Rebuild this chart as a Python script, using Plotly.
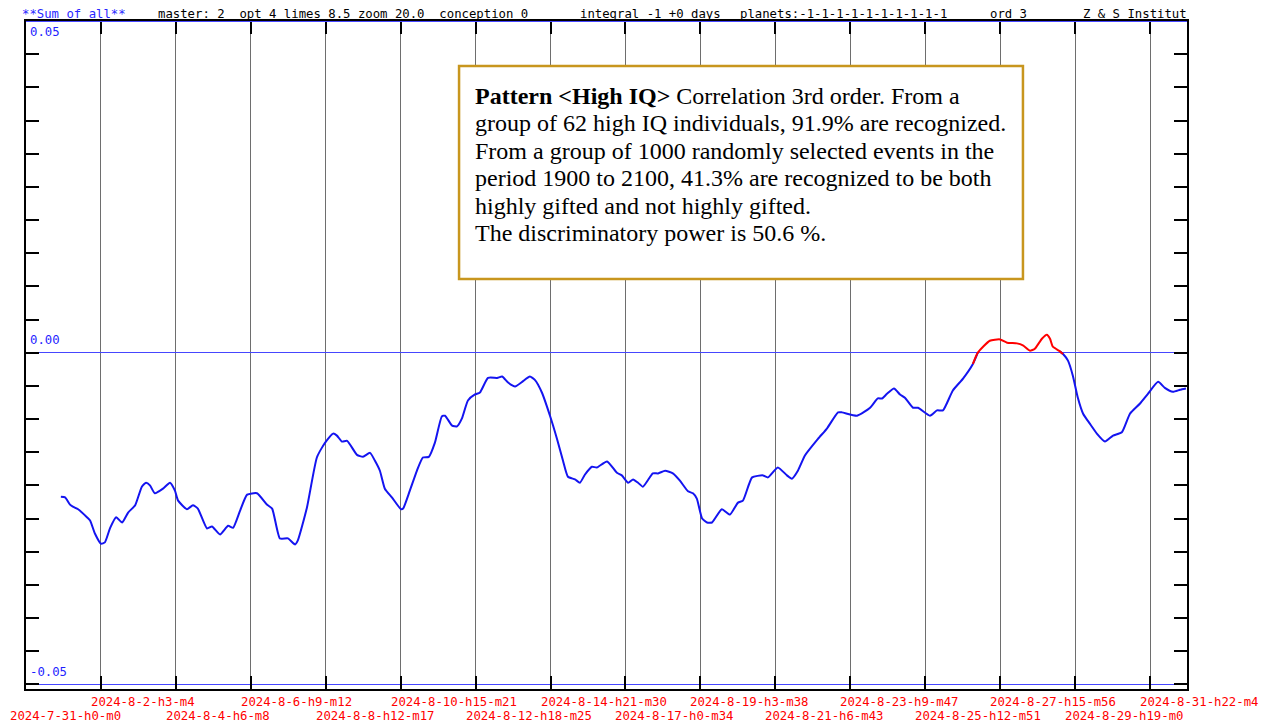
import re
from datetime import date

import numpy as np
import plotly.graph_objects as go

# x: days since 2024-7-31 h0 m0, y: summed correlation value
days = [
    0.99, 1.11, 1.25, 1.33, 1.48, 1.73, 1.82, 1.96, 2.13, 2.24,
    2.39, 2.56, 2.73, 2.90, 3.10, 3.29, 3.41, 3.52, 3.66, 3.89,
    4.09, 4.23, 4.32, 4.57, 4.74, 4.88, 5.14, 5.28, 5.51, 5.74,
    5.88, 6.08, 6.28, 6.56, 6.84, 6.99, 7.21, 7.44, 7.64, 7.72,
    7.98, 8.26, 8.49, 8.72, 8.83, 8.97, 9.12, 9.40, 9.57, 9.77,
    9.91, 10.05, 10.19, 10.39, 10.65, 10.71, 10.90, 11.10, 11.27, 11.44,
    11.61, 11.81, 11.90, 12.10, 12.24, 12.38, 12.55, 12.75, 12.89, 13.12,
    13.38, 13.52, 13.69, 13.89, 14.09, 14.31, 14.45, 14.65, 14.88, 15.08,
    15.25, 15.39, 15.59, 15.73, 15.87, 16.07, 16.21, 16.50, 16.78, 16.92,
    17.10, 17.24, 17.38, 17.52, 17.80, 17.95, 18.15, 18.37, 18.57, 18.80,
    18.94, 19.05, 19.20, 19.34, 19.48, 19.76, 19.99, 20.22, 20.36, 20.62,
    20.93, 21.07, 21.35, 21.61, 21.75, 21.92, 22.12, 22.49, 22.75, 23.06,
    23.17, 23.60, 23.97, 24.19, 24.31, 24.45, 24.65, 24.82, 24.96, 25.19,
    25.33, 25.67, 25.87, 26.04, 26.32, 26.61, 26.89, 27.03, 27.37, 27.66,
    27.86, 28.14, 28.31, 28.51, 28.65, 28.85, 28.99, 29.08, 29.16, 29.36,
    29.45, 29.59, 29.73, 29.87, 30.02, 30.21, 30.41, 30.64, 30.87, 31.12,
    31.35, 31.63, 31.86, 32.15, 32.34, 32.57, 32.77, 32.94,
]
values = [
    -0.0217, -0.0218, -0.0229, -0.0232, -0.0236, -0.0248, -0.0253, -0.0273, -0.0288, -0.0286,
    -0.0264, -0.0248, -0.0256, -0.0241, -0.0230, -0.0202, -0.0196, -0.0200, -0.0212, -0.0205,
    -0.0196, -0.0208, -0.0223, -0.0236, -0.0230, -0.0235, -0.0265, -0.0262, -0.0274, -0.0261,
    -0.0264, -0.0238, -0.0214, -0.0212, -0.0229, -0.0235, -0.0280, -0.0280, -0.0289, -0.0283,
    -0.0233, -0.0158, -0.0136, -0.0122, -0.0125, -0.0134, -0.0133, -0.0154, -0.0157, -0.0151,
    -0.0163, -0.0178, -0.0205, -0.0218, -0.0236, -0.0235, -0.0208, -0.0178, -0.0158, -0.0157,
    -0.0136, -0.0096, -0.0095, -0.0110, -0.0111, -0.0099, -0.0072, -0.0063, -0.0060, -0.0038,
    -0.0038, -0.0036, -0.0045, -0.0051, -0.0044, -0.0036, -0.0041, -0.0060, -0.0095, -0.0130,
    -0.0163, -0.0187, -0.0191, -0.0196, -0.0184, -0.0172, -0.0173, -0.0164, -0.0181, -0.0185,
    -0.0196, -0.0191, -0.0196, -0.0202, -0.0182, -0.0182, -0.0178, -0.0182, -0.0193, -0.0209,
    -0.0212, -0.0220, -0.0250, -0.0256, -0.0256, -0.0236, -0.0244, -0.0226, -0.0223, -0.0188,
    -0.0185, -0.0188, -0.0173, -0.0185, -0.0190, -0.0178, -0.0155, -0.0130, -0.0114, -0.0090,
    -0.0090, -0.0095, -0.0083, -0.0069, -0.0069, -0.0062, -0.0054, -0.0063, -0.0068, -0.0083,
    -0.0083, -0.0095, -0.0087, -0.0087, -0.0057, -0.0039, -0.0017, 0.0000, 0.0018, 0.0020,
    0.0015, 0.0014, 0.0011, 0.0003, 0.0006, 0.0021, 0.0027, 0.0021, 0.0009, 0.0002,
    -0.0002, -0.0012, -0.0035, -0.0068, -0.0092, -0.0107, -0.0122, -0.0134, -0.0125, -0.0120,
    -0.0092, -0.0077, -0.0062, -0.0044, -0.0053, -0.0059, -0.0056, -0.0054,
]

tick_labels = [
    "2024-7-31-h0-m0", "2024-8-2-h3-m4", "2024-8-4-h6-m8", "2024-8-6-h9-m12",
    "2024-8-8-h12-m17", "2024-8-10-h15-m21", "2024-8-12-h18-m25", "2024-8-14-h21-m30",
    "2024-8-17-h0-m34", "2024-8-19-h3-m38", "2024-8-21-h6-m43", "2024-8-23-h9-m47",
    "2024-8-25-h12-m51", "2024-8-27-h15-m56", "2024-8-29-h19-m0", "2024-8-31-h22-m4",
]

y_label_text = ["0.05", "0.00", "-0.05"]
y_label_vals = [0.05, 0.0, -0.05]

header_items = [
    "**Sum of all**",
    "master: 2\u00a0\u00a0opt 4 limes 8.5 zoom 20.0\u00a0\u00a0conception 0",
    "integral -1 +0 days",
    "planets:-1-1-1-1-1-1-1-1-1-1",
    "ord 3",
    "Z & S Institut",
]

info_lines = [
    "<b>Pattern &lt;High IQ&gt;</b> Correlation 3rd order. From a",
    "group of 62 high IQ individuals, 91.9% are recognized.",
    "From a group of 1000 randomly selected events in the",
    "period 1900 to 2100, 41.3% are recognized to be both",
    "highly gifted and not highly gifted.",
    "The discriminatory power is 50.6 %.",
]

MONO = "DejaVu Sans Mono"
SERIF = "Liberation Serif, Times New Roman, serif"
BLUE_LINE = "rgb(20,20,240)"
GRID_BLUE = "rgb(70,70,255)"


def label_to_days(label):
    y, mo, d, h, mi = map(int, re.findall(r"\d+", label))
    return (date(y, mo, d) - date(2024, 7, 31)).days + h / 24 + mi / 1440


tick_days = [label_to_days(t) for t in tick_labels]

# red where the sum is above zero, blue elsewhere (segments share the crossing points)
v = np.array(values)
pos = v >= 0
neg = ~pos
red_keep = pos | np.r_[pos[1:], False] | np.r_[False, pos[:-1]]
blue_keep = neg | np.r_[neg[1:], False] | np.r_[False, neg[:-1]]
red_y = [float(a) if k else None for a, k in zip(v, red_keep)]
blue_y = [float(a) if k else None for a, k in zip(v, blue_keep)]

fig = go.Figure()
fig.add_trace(go.Scatter(x=days, y=blue_y, mode="lines", hoverinfo="skip",
                         line=dict(color=BLUE_LINE, width=2, shape="spline", smoothing=0.5)))
fig.add_trace(go.Scatter(x=days, y=red_y, mode="lines", hoverinfo="skip",
                         line=dict(color="rgb(255,0,0)", width=2, shape="spline", smoothing=0.5)))

annotations = []

# header row
header_x = [21, 157, 579, 739, 989, 1082]
for i, (txt, px) in enumerate(zip(header_items, header_x)):
    annotations.append(dict(
        text=txt, xref="paper", yref="paper", x=0, y=1, xanchor="left", yanchor="middle",
        xshift=px - 27, yshift=7, showarrow=False,
        font=dict(family=MONO, size=12.3, color="rgb(40,40,255)" if i == 0 else "black")))

# date labels, alternating rows
for i, (txt, xd) in enumerate(zip(tick_labels, tick_days)):
    annotations.append(dict(
        text=txt, xref="x", yref="paper", x=xd, y=0, xanchor="left", yanchor="middle",
        xshift=-18 if i == 0 else -12, yshift=-27 if i % 2 == 0 else -13, showarrow=False,
        font=dict(family=MONO, size=12.3, color="rgb(255,0,0)")))

# value labels inside the frame
y_shifts = [-11, 13, 12]
for txt, yv, ys in zip(y_label_text, y_label_vals, y_shifts):
    annotations.append(dict(
        text=txt, xref="paper", yref="y", x=0, y=yv, xanchor="left", yanchor="middle",
        xshift=2, yshift=ys, showarrow=False,
        font=dict(family=MONO, size=12.3, color="rgb(30,30,255)")))

# text box
for i, line in enumerate(info_lines):
    annotations.append(dict(
        text=line, xref="paper", yref="paper", x=0, y=1, xanchor="left", yanchor="middle",
        xshift=447, yshift=-75 - 27.4 * i, showarrow=False,
        font=dict(family=SERIF, size=24, color="black")))

shapes = [
    dict(type="rect", xref="paper", yref="paper", x0=0.3730, x1=0.8587, y0=0.6138, y1=0.9326,
         line=dict(color="rgb(200,150,30)", width=2.5), fillcolor="white", layer="above"),
    dict(type="line", xref="paper", yref="y", x0=0, x1=1, y0=0.05, y1=0.05,
         line=dict(color=GRID_BLUE, width=2), layer="above"),
]

fig.update_layout(
    width=1263, height=725, autosize=False,
    margin=dict(l=26, r=76, t=21, b=36),
    paper_bgcolor="white", plot_bgcolor="white",
    showlegend=False,
    annotations=annotations,
    shapes=shapes,
    xaxis=dict(
        range=[0, 32.97], tickmode="array", tickvals=tick_days, showticklabels=False,
        showgrid=True, gridcolor="rgb(110,110,110)", gridwidth=1, zeroline=False,
        ticks="inside", ticklen=13, tickwidth=2, tickcolor="black",
        showline=True, linecolor="black", linewidth=2, mirror="ticks",
    ),
    yaxis=dict(
        range=[-0.0507, 0.05], tickmode="linear", tick0=0, dtick=0.05, showticklabels=False,
        showgrid=True, gridcolor=GRID_BLUE, gridwidth=1, zeroline=False,
        ticks="inside", ticklen=13, tickwidth=2, tickcolor="black",
        showline=True, linecolor="black", linewidth=2, mirror="ticks",
        minor=dict(tick0=0, dtick=0.005, ticks="inside", ticklen=13, tickwidth=2,
                   tickcolor="black", showgrid=False),
    ),
)

fig.write_html("out.html", config={"displayModeBar": False},
               post_script="document.body.style.margin='0px';")
